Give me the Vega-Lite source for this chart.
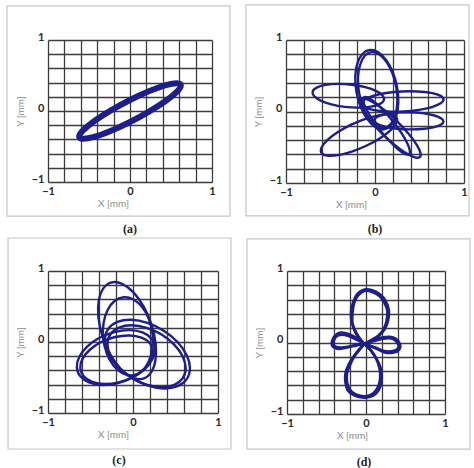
{
  "$schema": "https://vega.github.io/schema/vega-lite/v6.json",
  "background": "white",
  "padding": {"left": 6, "top": 4, "right": 0, "bottom": 0},
  "config": {
    "view": {"stroke": null},
    "axis": {
      "grid": true,
      "gridColor": "#3c3c3c",
      "gridWidth": 1.3,
      "domain": false,
      "ticks": false,
      "labelFlush": false,
      "labelFont": "Lato",
      "labelFontSize": 11,
      "labelFontWeight": "bold",
      "labelColor": "#2a2a2a",
      "titleFont": "Lato",
      "titleFontSize": 10,
      "titleFontWeight": "normal",
      "titleColor": "#8c8c8c"
    },
    "axisX": {"labelPadding": 3, "titlePadding": 2},
    "axisY": {"labelPadding": 4, "titlePadding": 6, "labelOffset": -3},
    "text": {"font": "Liberation Serif", "fontSize": 12, "fontWeight": "bold", "color": "#222222"}
  },
  "datasets": {
    "a": [
      {"s": "a1", "o": 0, "x": 0.62, "y": 0.36},
      {"s": "a1", "o": 1, "x": 0.573, "y": 0.392},
      {"s": "a1", "o": 2, "x": 0.438, "y": 0.365},
      {"s": "a1", "o": 3, "x": 0.237, "y": 0.281},
      {"s": "a1", "o": 4, "x": 0, "y": 0.155},
      {"s": "a1", "o": 5, "x": -0.237, "y": 0.005},
      {"s": "a1", "o": 6, "x": -0.438, "y": -0.145},
      {"s": "a1", "o": 7, "x": -0.573, "y": -0.274},
      {"s": "a1", "o": 8, "x": -0.62, "y": -0.36},
      {"s": "a1", "o": 9, "x": -0.573, "y": -0.392},
      {"s": "a1", "o": 10, "x": -0.438, "y": -0.365},
      {"s": "a1", "o": 11, "x": -0.237, "y": -0.281},
      {"s": "a1", "o": 12, "x": 0, "y": -0.155},
      {"s": "a1", "o": 13, "x": 0.237, "y": -0.005},
      {"s": "a1", "o": 14, "x": 0.438, "y": 0.145},
      {"s": "a1", "o": 15, "x": 0.573, "y": 0.274}
    ],
    "b": [
      {"s": "p1", "o": 0, "x": -0.06, "y": 0.86},
      {"s": "p1", "o": 1, "x": 0.033, "y": 0.831},
      {"s": "p1", "o": 2, "x": 0.124, "y": 0.72},
      {"s": "p1", "o": 3, "x": 0.2, "y": 0.548},
      {"s": "p1", "o": 4, "x": 0.248, "y": 0.338},
      {"s": "p1", "o": 5, "x": 0.262, "y": 0.122},
      {"s": "p1", "o": 6, "x": 0.238, "y": -0.064},
      {"s": "p1", "o": 7, "x": 0.181, "y": -0.195},
      {"s": "p1", "o": 8, "x": 0.1, "y": -0.25},
      {"s": "p1", "o": 9, "x": 0.007, "y": -0.221},
      {"s": "p1", "o": 10, "x": -0.084, "y": -0.11},
      {"s": "p1", "o": 11, "x": -0.16, "y": 0.062},
      {"s": "p1", "o": 12, "x": -0.208, "y": 0.272},
      {"s": "p1", "o": 13, "x": -0.222, "y": 0.488},
      {"s": "p1", "o": 14, "x": -0.198, "y": 0.674},
      {"s": "p1", "o": 15, "x": -0.141, "y": 0.805},
      {"s": "p2", "o": 0, "x": -0.7, "y": 0.28},
      {"s": "p2", "o": 1, "x": -0.655, "y": 0.334},
      {"s": "p2", "o": 2, "x": -0.555, "y": 0.372},
      {"s": "p2", "o": 3, "x": -0.416, "y": 0.386},
      {"s": "p2", "o": 4, "x": -0.26, "y": 0.375},
      {"s": "p2", "o": 5, "x": -0.11, "y": 0.34},
      {"s": "p2", "o": 6, "x": 0.011, "y": 0.288},
      {"s": "p2", "o": 7, "x": 0.085, "y": 0.224},
      {"s": "p2", "o": 8, "x": 0.1, "y": 0.16},
      {"s": "p2", "o": 9, "x": 0.055, "y": 0.106},
      {"s": "p2", "o": 10, "x": -0.045, "y": 0.068},
      {"s": "p2", "o": 11, "x": -0.184, "y": 0.054},
      {"s": "p2", "o": 12, "x": -0.34, "y": 0.065},
      {"s": "p2", "o": 13, "x": -0.49, "y": 0.1},
      {"s": "p2", "o": 14, "x": -0.611, "y": 0.152},
      {"s": "p2", "o": 15, "x": -0.685, "y": 0.216},
      {"s": "p3", "o": 0, "x": 0.77, "y": 0.17},
      {"s": "p3", "o": 1, "x": 0.732, "y": 0.222},
      {"s": "p3", "o": 2, "x": 0.629, "y": 0.26},
      {"s": "p3", "o": 3, "x": 0.478, "y": 0.28},
      {"s": "p3", "o": 4, "x": 0.301, "y": 0.28},
      {"s": "p3", "o": 5, "x": 0.126, "y": 0.258},
      {"s": "p3", "o": 6, "x": -0.021, "y": 0.218},
      {"s": "p3", "o": 7, "x": -0.118, "y": 0.166},
      {"s": "p3", "o": 8, "x": -0.15, "y": 0.11},
      {"s": "p3", "o": 9, "x": -0.112, "y": 0.058},
      {"s": "p3", "o": 10, "x": -0.009, "y": 0.02},
      {"s": "p3", "o": 11, "x": 0.142, "y": 0.0},
      {"s": "p3", "o": 12, "x": 0.319, "y": 0.0},
      {"s": "p3", "o": 13, "x": 0.494, "y": 0.022},
      {"s": "p3", "o": 14, "x": 0.641, "y": 0.062},
      {"s": "p3", "o": 15, "x": 0.738, "y": 0.114},
      {"s": "p4", "o": 0, "x": 0.77, "y": -0.14},
      {"s": "p4", "o": 1, "x": 0.741, "y": -0.093},
      {"s": "p4", "o": 2, "x": 0.658, "y": -0.052},
      {"s": "p4", "o": 3, "x": 0.532, "y": -0.023},
      {"s": "p4", "o": 4, "x": 0.383, "y": -0.01},
      {"s": "p4", "o": 5, "x": 0.234, "y": -0.015},
      {"s": "p4", "o": 6, "x": 0.106, "y": -0.038},
      {"s": "p4", "o": 7, "x": 0.021, "y": -0.075},
      {"s": "p4", "o": 8, "x": -0.01, "y": -0.12},
      {"s": "p4", "o": 9, "x": 0.019, "y": -0.167},
      {"s": "p4", "o": 10, "x": 0.102, "y": -0.208},
      {"s": "p4", "o": 11, "x": 0.228, "y": -0.237},
      {"s": "p4", "o": 12, "x": 0.377, "y": -0.25},
      {"s": "p4", "o": 13, "x": 0.526, "y": -0.245},
      {"s": "p4", "o": 14, "x": 0.654, "y": -0.222},
      {"s": "p4", "o": 15, "x": 0.739, "y": -0.185},
      {"s": "p5", "o": 0, "x": 0.5, "y": -0.64},
      {"s": "p5", "o": 1, "x": 0.511, "y": -0.58},
      {"s": "p5", "o": 2, "x": 0.469, "y": -0.467},
      {"s": "p5", "o": 3, "x": 0.382, "y": -0.318},
      {"s": "p5", "o": 4, "x": 0.263, "y": -0.155},
      {"s": "p5", "o": 5, "x": 0.13, "y": -0.004},
      {"s": "p5", "o": 6, "x": 0.003, "y": 0.113},
      {"s": "p5", "o": 7, "x": -0.099, "y": 0.178},
      {"s": "p5", "o": 8, "x": -0.16, "y": 0.18},
      {"s": "p5", "o": 9, "x": -0.171, "y": 0.12},
      {"s": "p5", "o": 10, "x": -0.129, "y": 0.007},
      {"s": "p5", "o": 11, "x": -0.042, "y": -0.142},
      {"s": "p5", "o": 12, "x": 0.077, "y": -0.305},
      {"s": "p5", "o": 13, "x": 0.21, "y": -0.456},
      {"s": "p5", "o": 14, "x": 0.337, "y": -0.573},
      {"s": "p5", "o": 15, "x": 0.439, "y": -0.638},
      {"s": "p6", "o": 0, "x": -0.6, "y": -0.58},
      {"s": "p6", "o": 1, "x": -0.601, "y": -0.505},
      {"s": "p6", "o": 2, "x": -0.539, "y": -0.404},
      {"s": "p6", "o": 3, "x": -0.421, "y": -0.291},
      {"s": "p6", "o": 4, "x": -0.267, "y": -0.184},
      {"s": "p6", "o": 5, "x": -0.099, "y": -0.099},
      {"s": "p6", "o": 6, "x": 0.055, "y": -0.05},
      {"s": "p6", "o": 7, "x": 0.175, "y": -0.043},
      {"s": "p6", "o": 8, "x": 0.24, "y": -0.08},
      {"s": "p6", "o": 9, "x": 0.241, "y": -0.155},
      {"s": "p6", "o": 10, "x": 0.179, "y": -0.256},
      {"s": "p6", "o": 11, "x": 0.061, "y": -0.369},
      {"s": "p6", "o": 12, "x": -0.093, "y": -0.476},
      {"s": "p6", "o": 13, "x": -0.261, "y": -0.561},
      {"s": "p6", "o": 14, "x": -0.415, "y": -0.61},
      {"s": "p6", "o": 15, "x": -0.535, "y": -0.617},
      {"s": "p7", "o": 0, "x": -0.04, "y": 0.83},
      {"s": "p7", "o": 1, "x": 0.045, "y": 0.801},
      {"s": "p7", "o": 2, "x": 0.129, "y": 0.696},
      {"s": "p7", "o": 3, "x": 0.197, "y": 0.531},
      {"s": "p7", "o": 4, "x": 0.24, "y": 0.33},
      {"s": "p7", "o": 5, "x": 0.251, "y": 0.125},
      {"s": "p7", "o": 6, "x": 0.227, "y": -0.054},
      {"s": "p7", "o": 7, "x": 0.175, "y": -0.179},
      {"s": "p7", "o": 8, "x": 0.1, "y": -0.23},
      {"s": "p7", "o": 9, "x": 0.015, "y": -0.201},
      {"s": "p7", "o": 10, "x": -0.069, "y": -0.096},
      {"s": "p7", "o": 11, "x": -0.137, "y": 0.069},
      {"s": "p7", "o": 12, "x": -0.18, "y": 0.27},
      {"s": "p7", "o": 13, "x": -0.191, "y": 0.475},
      {"s": "p7", "o": 14, "x": -0.167, "y": 0.654},
      {"s": "p7", "o": 15, "x": -0.115, "y": 0.779},
      {"s": "p8", "o": 0, "x": 0.38, "y": -0.6},
      {"s": "p8", "o": 1, "x": 0.392, "y": -0.551},
      {"s": "p8", "o": 2, "x": 0.364, "y": -0.448},
      {"s": "p8", "o": 3, "x": 0.3, "y": -0.307},
      {"s": "p8", "o": 4, "x": 0.21, "y": -0.15},
      {"s": "p8", "o": 5, "x": 0.108, "y": -0.001},
      {"s": "p8", "o": 6, "x": 0.01, "y": 0.118},
      {"s": "p8", "o": 7, "x": -0.07, "y": 0.189},
      {"s": "p8", "o": 8, "x": -0.12, "y": 0.2},
      {"s": "p8", "o": 9, "x": -0.132, "y": 0.151},
      {"s": "p8", "o": 10, "x": -0.104, "y": 0.048},
      {"s": "p8", "o": 11, "x": -0.04, "y": -0.093},
      {"s": "p8", "o": 12, "x": 0.05, "y": -0.25},
      {"s": "p8", "o": 13, "x": 0.152, "y": -0.399},
      {"s": "p8", "o": 14, "x": 0.25, "y": -0.518},
      {"s": "p8", "o": 15, "x": 0.33, "y": -0.589}
    ],
    "c": [
      {"s": "e1", "o": 0, "x": -0.25, "y": 0.84},
      {"s": "e1", "o": 1, "x": -0.125, "y": 0.817},
      {"s": "e1", "o": 2, "x": 0.008, "y": 0.695},
      {"s": "e1", "o": 3, "x": 0.129, "y": 0.491},
      {"s": "e1", "o": 4, "x": 0.22, "y": 0.237},
      {"s": "e1", "o": 5, "x": 0.267, "y": -0.029},
      {"s": "e1", "o": 6, "x": 0.262, "y": -0.267},
      {"s": "e1", "o": 7, "x": 0.207, "y": -0.439},
      {"s": "e1", "o": 8, "x": 0.11, "y": -0.52},
      {"s": "e1", "o": 9, "x": -0.015, "y": -0.497},
      {"s": "e1", "o": 10, "x": -0.148, "y": -0.375},
      {"s": "e1", "o": 11, "x": -0.269, "y": -0.171},
      {"s": "e1", "o": 12, "x": -0.36, "y": 0.083},
      {"s": "e1", "o": 13, "x": -0.407, "y": 0.349},
      {"s": "e1", "o": 14, "x": -0.402, "y": 0.587},
      {"s": "e1", "o": 15, "x": -0.347, "y": 0.759},
      {"s": "e2", "o": 0, "x": -0.11, "y": 0.63},
      {"s": "e2", "o": 1, "x": 0.005, "y": 0.599},
      {"s": "e2", "o": 2, "x": 0.11, "y": 0.49},
      {"s": "e2", "o": 3, "x": 0.189, "y": 0.319},
      {"s": "e2", "o": 4, "x": 0.23, "y": 0.11},
      {"s": "e2", "o": 5, "x": 0.227, "y": -0.103},
      {"s": "e2", "o": 6, "x": 0.18, "y": -0.288},
      {"s": "e2", "o": 7, "x": 0.097, "y": -0.417},
      {"s": "e2", "o": 8, "x": -0.01, "y": -0.47},
      {"s": "e2", "o": 9, "x": -0.125, "y": -0.439},
      {"s": "e2", "o": 10, "x": -0.23, "y": -0.33},
      {"s": "e2", "o": 11, "x": -0.309, "y": -0.159},
      {"s": "e2", "o": 12, "x": -0.35, "y": 0.05},
      {"s": "e2", "o": 13, "x": -0.347, "y": 0.263},
      {"s": "e2", "o": 14, "x": -0.3, "y": 0.448},
      {"s": "e2", "o": 15, "x": -0.217, "y": 0.577},
      {"s": "e3", "o": 0, "x": -0.66, "y": -0.36},
      {"s": "e3", "o": 1, "x": -0.633, "y": -0.211},
      {"s": "e3", "o": 2, "x": -0.539, "y": -0.064},
      {"s": "e3", "o": 3, "x": -0.394, "y": 0.059},
      {"s": "e3", "o": 4, "x": -0.22, "y": 0.14},
      {"s": "e3", "o": 5, "x": -0.042, "y": 0.167},
      {"s": "e3", "o": 6, "x": 0.111, "y": 0.134},
      {"s": "e3", "o": 7, "x": 0.217, "y": 0.047},
      {"s": "e3", "o": 8, "x": 0.26, "y": -0.08},
      {"s": "e3", "o": 9, "x": 0.233, "y": -0.229},
      {"s": "e3", "o": 10, "x": 0.139, "y": -0.376},
      {"s": "e3", "o": 11, "x": -0.006, "y": -0.499},
      {"s": "e3", "o": 12, "x": -0.18, "y": -0.58},
      {"s": "e3", "o": 13, "x": -0.358, "y": -0.607},
      {"s": "e3", "o": 14, "x": -0.511, "y": -0.574},
      {"s": "e3", "o": 15, "x": -0.617, "y": -0.487},
      {"s": "e4", "o": 0, "x": -0.62, "y": -0.37},
      {"s": "e4", "o": 1, "x": -0.595, "y": -0.238},
      {"s": "e4", "o": 2, "x": -0.508, "y": -0.109},
      {"s": "e4", "o": 3, "x": -0.373, "y": 0.0},
      {"s": "e4", "o": 4, "x": -0.21, "y": 0.07},
      {"s": "e4", "o": 5, "x": -0.043, "y": 0.092},
      {"s": "e4", "o": 6, "x": 0.1, "y": 0.061},
      {"s": "e4", "o": 7, "x": 0.199, "y": -0.016},
      {"s": "e4", "o": 8, "x": 0.24, "y": -0.13},
      {"s": "e4", "o": 9, "x": 0.215, "y": -0.262},
      {"s": "e4", "o": 10, "x": 0.128, "y": -0.391},
      {"s": "e4", "o": 11, "x": -0.007, "y": -0.5},
      {"s": "e4", "o": 12, "x": -0.17, "y": -0.57},
      {"s": "e4", "o": 13, "x": -0.337, "y": -0.592},
      {"s": "e4", "o": 14, "x": -0.48, "y": -0.561},
      {"s": "e4", "o": 15, "x": -0.579, "y": -0.484},
      {"s": "e5", "o": 0, "x": 0.67, "y": -0.37},
      {"s": "e5", "o": 1, "x": 0.632, "y": -0.187},
      {"s": "e5", "o": 2, "x": 0.524, "y": 0.0},
      {"s": "e5", "o": 3, "x": 0.362, "y": 0.16},
      {"s": "e5", "o": 4, "x": 0.17, "y": 0.27},
      {"s": "e5", "o": 5, "x": -0.022, "y": 0.314},
      {"s": "e5", "o": 6, "x": -0.184, "y": 0.282},
      {"s": "e5", "o": 7, "x": -0.292, "y": 0.183},
      {"s": "e5", "o": 8, "x": -0.33, "y": 0.03},
      {"s": "e5", "o": 9, "x": -0.292, "y": -0.153},
      {"s": "e5", "o": 10, "x": -0.184, "y": -0.34},
      {"s": "e5", "o": 11, "x": -0.022, "y": -0.5},
      {"s": "e5", "o": 12, "x": 0.17, "y": -0.61},
      {"s": "e5", "o": 13, "x": 0.362, "y": -0.654},
      {"s": "e5", "o": 14, "x": 0.524, "y": -0.622},
      {"s": "e5", "o": 15, "x": 0.632, "y": -0.523},
      {"s": "e6", "o": 0, "x": 0.62, "y": -0.37},
      {"s": "e6", "o": 1, "x": 0.585, "y": -0.204},
      {"s": "e6", "o": 2, "x": 0.485, "y": -0.037},
      {"s": "e6", "o": 3, "x": 0.336, "y": 0.105},
      {"s": "e6", "o": 4, "x": 0.16, "y": 0.2},
      {"s": "e6", "o": 5, "x": -0.016, "y": 0.235},
      {"s": "e6", "o": 6, "x": -0.165, "y": 0.203},
      {"s": "e6", "o": 7, "x": -0.265, "y": 0.11},
      {"s": "e6", "o": 8, "x": -0.3, "y": -0.03},
      {"s": "e6", "o": 9, "x": -0.265, "y": -0.196},
      {"s": "e6", "o": 10, "x": -0.165, "y": -0.363},
      {"s": "e6", "o": 11, "x": -0.016, "y": -0.505},
      {"s": "e6", "o": 12, "x": 0.16, "y": -0.6},
      {"s": "e6", "o": 13, "x": 0.336, "y": -0.635},
      {"s": "e6", "o": 14, "x": 0.485, "y": -0.603},
      {"s": "e6", "o": 15, "x": 0.585, "y": -0.51}
    ],
    "d": [
      {"s": "top", "o": 0, "x": -0.02, "y": -0.02},
      {"s": "top", "o": 1, "x": 0.07, "y": 0.03},
      {"s": "top", "o": 2, "x": 0.16, "y": 0.09},
      {"s": "top", "o": 3, "x": 0.24, "y": 0.19},
      {"s": "top", "o": 4, "x": 0.28, "y": 0.31},
      {"s": "top", "o": 5, "x": 0.29, "y": 0.45},
      {"s": "top", "o": 6, "x": 0.25, "y": 0.58},
      {"s": "top", "o": 7, "x": 0.18, "y": 0.67},
      {"s": "top", "o": 8, "x": 0.08, "y": 0.73},
      {"s": "top", "o": 9, "x": -0.02, "y": 0.74},
      {"s": "top", "o": 10, "x": -0.11, "y": 0.68},
      {"s": "top", "o": 11, "x": -0.16, "y": 0.57},
      {"s": "top", "o": 12, "x": -0.19, "y": 0.43},
      {"s": "top", "o": 13, "x": -0.18, "y": 0.28},
      {"s": "top", "o": 14, "x": -0.13, "y": 0.13},
      {"s": "top", "o": 15, "x": -0.07, "y": 0.03},
      {"s": "top", "o": 16, "x": -0.02, "y": -0.02},
      {"s": "top2", "o": 0, "x": -0.02, "y": -0.02},
      {"s": "top2", "o": 1, "x": 0.06, "y": 0.03},
      {"s": "top2", "o": 2, "x": 0.15, "y": 0.09},
      {"s": "top2", "o": 3, "x": 0.22, "y": 0.18},
      {"s": "top2", "o": 4, "x": 0.26, "y": 0.3},
      {"s": "top2", "o": 5, "x": 0.27, "y": 0.44},
      {"s": "top2", "o": 6, "x": 0.23, "y": 0.56},
      {"s": "top2", "o": 7, "x": 0.17, "y": 0.65},
      {"s": "top2", "o": 8, "x": 0.07, "y": 0.71},
      {"s": "top2", "o": 9, "x": -0.02, "y": 0.72},
      {"s": "top2", "o": 10, "x": -0.1, "y": 0.66},
      {"s": "top2", "o": 11, "x": -0.15, "y": 0.55},
      {"s": "top2", "o": 12, "x": -0.17, "y": 0.42},
      {"s": "top2", "o": 13, "x": -0.17, "y": 0.27},
      {"s": "top2", "o": 14, "x": -0.12, "y": 0.13},
      {"s": "top2", "o": 15, "x": -0.06, "y": 0.03},
      {"s": "top2", "o": 16, "x": -0.02, "y": -0.02},
      {"s": "bottom", "o": 0, "x": -0.02, "y": -0.02},
      {"s": "bottom", "o": 1, "x": -0.09, "y": -0.1},
      {"s": "bottom", "o": 2, "x": -0.16, "y": -0.2},
      {"s": "bottom", "o": 3, "x": -0.22, "y": -0.31},
      {"s": "bottom", "o": 4, "x": -0.26, "y": -0.43},
      {"s": "bottom", "o": 5, "x": -0.26, "y": -0.56},
      {"s": "bottom", "o": 6, "x": -0.23, "y": -0.67},
      {"s": "bottom", "o": 7, "x": -0.15, "y": -0.74},
      {"s": "bottom", "o": 8, "x": -0.05, "y": -0.77},
      {"s": "bottom", "o": 9, "x": 0.05, "y": -0.76},
      {"s": "bottom", "o": 10, "x": 0.13, "y": -0.71},
      {"s": "bottom", "o": 11, "x": 0.18, "y": -0.62},
      {"s": "bottom", "o": 12, "x": 0.2, "y": -0.5},
      {"s": "bottom", "o": 13, "x": 0.19, "y": -0.37},
      {"s": "bottom", "o": 14, "x": 0.14, "y": -0.24},
      {"s": "bottom", "o": 15, "x": 0.07, "y": -0.12},
      {"s": "bottom", "o": 16, "x": -0.02, "y": -0.02},
      {"s": "bottom2", "o": 0, "x": -0.02, "y": -0.02},
      {"s": "bottom2", "o": 1, "x": -0.08, "y": -0.1},
      {"s": "bottom2", "o": 2, "x": -0.15, "y": -0.2},
      {"s": "bottom2", "o": 3, "x": -0.2, "y": -0.31},
      {"s": "bottom2", "o": 4, "x": -0.24, "y": -0.43},
      {"s": "bottom2", "o": 5, "x": -0.24, "y": -0.55},
      {"s": "bottom2", "o": 6, "x": -0.21, "y": -0.65},
      {"s": "bottom2", "o": 7, "x": -0.14, "y": -0.72},
      {"s": "bottom2", "o": 8, "x": -0.05, "y": -0.75},
      {"s": "bottom2", "o": 9, "x": 0.04, "y": -0.74},
      {"s": "bottom2", "o": 10, "x": 0.11, "y": -0.69},
      {"s": "bottom2", "o": 11, "x": 0.16, "y": -0.6},
      {"s": "bottom2", "o": 12, "x": 0.18, "y": -0.49},
      {"s": "bottom2", "o": 13, "x": 0.17, "y": -0.36},
      {"s": "bottom2", "o": 14, "x": 0.13, "y": -0.23},
      {"s": "bottom2", "o": 15, "x": 0.06, "y": -0.11},
      {"s": "bottom2", "o": 16, "x": -0.02, "y": -0.02},
      {"s": "left", "o": 0, "x": -0.02, "y": -0.02},
      {"s": "left", "o": 1, "x": -0.12, "y": 0.06},
      {"s": "left", "o": 2, "x": -0.22, "y": 0.12},
      {"s": "left", "o": 3, "x": -0.32, "y": 0.14},
      {"s": "left", "o": 4, "x": -0.39, "y": 0.1},
      {"s": "left", "o": 5, "x": -0.43, "y": 0.02},
      {"s": "left", "o": 6, "x": -0.42, "y": -0.06},
      {"s": "left", "o": 7, "x": -0.35, "y": -0.09},
      {"s": "left", "o": 8, "x": -0.24, "y": -0.07},
      {"s": "left", "o": 9, "x": -0.12, "y": -0.04},
      {"s": "left", "o": 10, "x": -0.02, "y": -0.02},
      {"s": "left2", "o": 0, "x": -0.02, "y": -0.02},
      {"s": "left2", "o": 1, "x": -0.12, "y": 0.04},
      {"s": "left2", "o": 2, "x": -0.22, "y": 0.09},
      {"s": "left2", "o": 3, "x": -0.31, "y": 0.11},
      {"s": "left2", "o": 4, "x": -0.38, "y": 0.08},
      {"s": "left2", "o": 5, "x": -0.41, "y": 0.01},
      {"s": "left2", "o": 6, "x": -0.4, "y": -0.05},
      {"s": "left2", "o": 7, "x": -0.33, "y": -0.07},
      {"s": "left2", "o": 8, "x": -0.23, "y": -0.06},
      {"s": "left2", "o": 9, "x": -0.12, "y": -0.03},
      {"s": "left2", "o": 10, "x": -0.02, "y": -0.02},
      {"s": "right", "o": 0, "x": -0.02, "y": -0.02},
      {"s": "right", "o": 1, "x": 0.1, "y": 0.04},
      {"s": "right", "o": 2, "x": 0.2, "y": 0.07},
      {"s": "right", "o": 3, "x": 0.3, "y": 0.08},
      {"s": "right", "o": 4, "x": 0.38, "y": 0.05},
      {"s": "right", "o": 5, "x": 0.43, "y": -0.02},
      {"s": "right", "o": 6, "x": 0.42, "y": -0.1},
      {"s": "right", "o": 7, "x": 0.35, "y": -0.14},
      {"s": "right", "o": 8, "x": 0.24, "y": -0.14},
      {"s": "right", "o": 9, "x": 0.12, "y": -0.08},
      {"s": "right", "o": 10, "x": -0.02, "y": -0.02},
      {"s": "right2", "o": 0, "x": -0.02, "y": -0.02},
      {"s": "right2", "o": 1, "x": 0.1, "y": 0.02},
      {"s": "right2", "o": 2, "x": 0.2, "y": 0.05},
      {"s": "right2", "o": 3, "x": 0.3, "y": 0.06},
      {"s": "right2", "o": 4, "x": 0.37, "y": 0.03},
      {"s": "right2", "o": 5, "x": 0.41, "y": -0.03},
      {"s": "right2", "o": 6, "x": 0.4, "y": -0.09},
      {"s": "right2", "o": 7, "x": 0.34, "y": -0.12},
      {"s": "right2", "o": 8, "x": 0.23, "y": -0.12},
      {"s": "right2", "o": 9, "x": 0.12, "y": -0.07},
      {"s": "right2", "o": 10, "x": -0.02, "y": -0.02}
    ]
  },
  "vconcat": [
    {
      "spacing": 14,
      "hconcat": [
        {
          "width": 164,
          "height": 142,
          "encoding": {
            "x": {"field": "x", "type": "quantitative", "scale": {"domain": [-1, 1], "nice": false, "zero": false},
              "axis": {"title": "X [mm]", "titleX": 65, "values": [-1, -0.8, -0.6, -0.4, -0.2, 0, 0.2, 0.4, 0.6, 0.8, 1],
                "labelExpr": "datum.value == 0 ? '0' : datum.value == 1 ? '1' : datum.value == -1 ? '\u22121' : ''"}},
            "y": {"field": "y", "type": "quantitative", "scale": {"domain": [-1, 1], "nice": false, "zero": false},
              "axis": {"title": "Y [mm]", "values": [-1, -0.8, -0.6, -0.4, -0.2, 0, 0.2, 0.4, 0.6, 0.8, 1],
                "labelExpr": "datum.value == 0 ? '0' : datum.value == 1 ? '1' : datum.value == -1 ? '\u22121' : ''"}}
          },
          "layer": [
            {
              "data": {"name": "a"},
              "mark": {"type": "line", "interpolate": "cardinal-closed", "color": "#1e1e8a", "strokeWidth": 6},
              "encoding": {"detail": {"field": "s"}, "order": {"field": "o", "type": "quantitative"}}
            },
            {
              "data": {"values": [{"x": -1.5, "x2": 1.22, "y": -1.48, "y2": 1.48}]},
              "mark": {"type": "rect", "fill": "transparent", "stroke": "#c6c6c6", "strokeWidth": 1.2},
              "encoding": {"x2": {"field": "x2"}, "y2": {"field": "y2"}}
            },
            {
              "data": {"values": [{"x": 0, "y": -1.66, "lab": "(a)"}]},
              "mark": {"type": "text"},
              "encoding": {"text": {"field": "lab"}}
            }
          ]
        },
        {
          "width": 178,
          "height": 143,
          "encoding": {
            "x": {"field": "x", "type": "quantitative", "scale": {"domain": [-1, 1], "nice": false, "zero": false},
              "axis": {"title": "X [mm]", "titleX": 65, "values": [-1, -0.8, -0.6, -0.4, -0.2, 0, 0.2, 0.4, 0.6, 0.8, 1],
                "labelExpr": "datum.value == 0 ? '0' : datum.value == 1 ? '1' : datum.value == -1 ? '\u22121' : ''"}},
            "y": {"field": "y", "type": "quantitative", "scale": {"domain": [-1, 1], "nice": false, "zero": false},
              "axis": {"title": "Y [mm]", "values": [-1, -0.8, -0.6, -0.4, -0.2, 0, 0.2, 0.4, 0.6, 0.8, 1],
                "labelExpr": "datum.value == 0 ? '0' : datum.value == 1 ? '1' : datum.value == -1 ? '\u22121' : ''"}}
          },
          "layer": [
            {
              "data": {"name": "b"},
              "mark": {"type": "line", "interpolate": "cardinal-closed", "color": "#1e1e8a", "strokeWidth": 2.4},
              "encoding": {"detail": {"field": "s"}, "order": {"field": "o", "type": "quantitative"}}
            },
            {
              "data": {"values": [{"x": -1.45, "x2": 1.056, "y": -1.46, "y2": 1.49}]},
              "mark": {"type": "rect", "fill": "transparent", "stroke": "#c6c6c6", "strokeWidth": 1.2},
              "encoding": {"x2": {"field": "x2"}, "y2": {"field": "y2"}}
            },
            {
              "data": {"values": [{"x": 0, "y": -1.64, "lab": "(b)"}]},
              "mark": {"type": "text"},
              "encoding": {"text": {"field": "lab"}}
            }
          ]
        }
      ]
    },
    {
      "spacing": 14,
      "hconcat": [
        {
          "width": 170,
          "height": 142,
          "encoding": {
            "x": {"field": "x", "type": "quantitative", "scale": {"domain": [-1, 1], "nice": false, "zero": false},
              "axis": {"title": "X [mm]", "titleX": 65, "values": [-1, -0.8, -0.6, -0.4, -0.2, 0, 0.2, 0.4, 0.6, 0.8, 1],
                "labelExpr": "datum.value == 0 ? '0' : datum.value == 1 ? '1' : datum.value == -1 ? '\u22121' : ''"}},
            "y": {"field": "y", "type": "quantitative", "scale": {"domain": [-1, 1], "nice": false, "zero": false},
              "axis": {"title": "Y [mm]", "values": [-1, -0.8, -0.6, -0.4, -0.2, 0, 0.2, 0.4, 0.6, 0.8, 1],
                "labelExpr": "datum.value == 0 ? '0' : datum.value == 1 ? '1' : datum.value == -1 ? '\u22121' : ''"}}
          },
          "layer": [
            {
              "data": {"name": "c"},
              "mark": {"type": "line", "interpolate": "cardinal-closed", "color": "#1e1e8a", "strokeWidth": 2.4},
              "encoding": {"detail": {"field": "s"}, "order": {"field": "o", "type": "quantitative"}}
            },
            {
              "data": {"values": [{"x": -1.47, "x2": 1.153, "y": -1.507, "y2": 1.465}]},
              "mark": {"type": "rect", "fill": "transparent", "stroke": "#c6c6c6", "strokeWidth": 1.2},
              "encoding": {"x2": {"field": "x2"}, "y2": {"field": "y2"}}
            },
            {
              "data": {"values": [{"x": -0.165, "y": -1.665, "lab": "(c)"}]},
              "mark": {"type": "text"},
              "encoding": {"text": {"field": "lab"}}
            }
          ]
        },
        {
          "width": 158,
          "height": 143,
          "encoding": {
            "x": {"field": "x", "type": "quantitative", "scale": {"domain": [-1, 1], "nice": false, "zero": false},
              "axis": {"title": "X [mm]", "titleX": 65, "values": [-1, -0.8, -0.6, -0.4, -0.2, 0, 0.2, 0.4, 0.6, 0.8, 1],
                "labelExpr": "datum.value == 0 ? '0' : datum.value == 1 ? '1' : datum.value == -1 ? '\u22121' : ''"}},
            "y": {"field": "y", "type": "quantitative", "scale": {"domain": [-1, 1], "nice": false, "zero": false},
              "axis": {"title": "Y [mm]", "values": [-1, -0.8, -0.6, -0.4, -0.2, 0, 0.2, 0.4, 0.6, 0.8, 1],
                "labelExpr": "datum.value == 0 ? '0' : datum.value == 1 ? '1' : datum.value == -1 ? '\u22121' : ''"}}
          },
          "layer": [
            {
              "data": {"name": "d"},
              "mark": {"type": "line", "interpolate": "cardinal", "color": "#1e1e8a", "strokeWidth": 2.6},
              "encoding": {"detail": {"field": "s"}, "order": {"field": "o", "type": "quantitative"}}
            },
            {
              "data": {"values": [{"x": -1.506, "x2": 1.316, "y": -1.49, "y2": 1.448}]},
              "mark": {"type": "rect", "fill": "transparent", "stroke": "#c6c6c6", "strokeWidth": 1.2},
              "encoding": {"x2": {"field": "x2"}, "y2": {"field": "y2"}}
            },
            {
              "data": {"values": [{"x": -0.025, "y": -1.665, "lab": "(d)"}]},
              "mark": {"type": "text"},
              "encoding": {"text": {"field": "lab"}}
            }
          ]
        }
      ]
    }
  ],
  "spacing": 2
}
